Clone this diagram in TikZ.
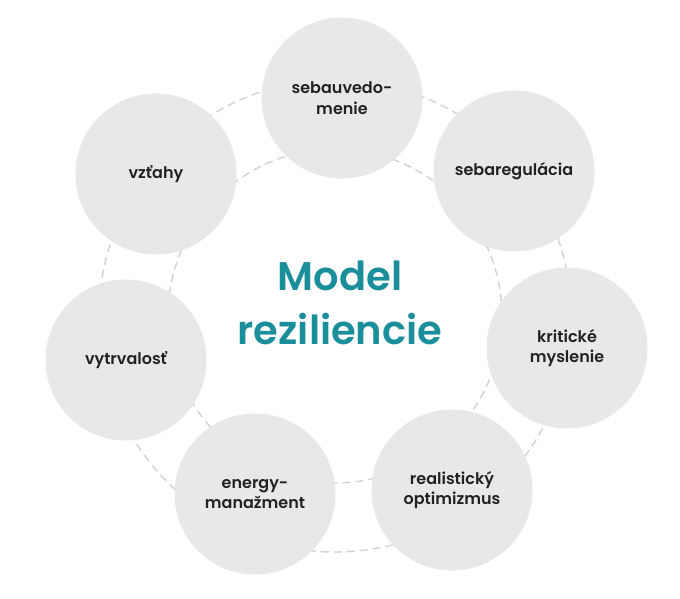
\documentclass[tikz,border=0pt]{standalone}
\usepackage{fontspec}
\setmainfont{Poppins}
\newfontfamily\lblfont{Poppins SemiBold}
\newfontfamily\ttlfont{Poppins SemiBold}
\definecolor{bubble}{HTML}{E8E8E8}
\definecolor{ringc}{HTML}{D2D2D2}
\definecolor{teal}{HTML}{1A8F9B}
\definecolor{ink}{HTML}{222222}
\begin{document}
\begin{tikzpicture}[x=1pt,y=-1pt,
  bubble/.style={circle,fill=bubble,minimum size=161pt,inner sep=0pt,align=center,
    font=\lblfont\fontsize{16}{20.5}\selectfont,text=ink},
  ring/.style={draw=ringc,line width=1.4pt,dash pattern=on 8pt off 5pt},
  title/.style={align=center,text=teal,font=\ttlfont\fontsize{40}{54}\selectfont}]
\useasboundingbox (0,0) rectangle (680,599);
\coordinate (hub) at (335,316);
\draw[ring] (hub) circle[radius=236];
\draw[ring] (hub) circle[radius=167];
\node[bubble] (a) at (342,98) {sebauvedo-\\menie};
\node[bubble] (b) at (514,171) {sebaregulácia};
\node[bubble] (c) at (567,348) {kritické\\myslenie};
\node[bubble] (d) at (452,490) {realistický\\optimizmus};
\node[bubble] (e) at (255,494) {energy-\\manažment};
\node[bubble] (f) at (126,360) {vytrvalosť};
\node[bubble] (g) at (156,174) {vzťahy};
\node[title] (t) at (340,303) {Model\\reziliencie};
\end{tikzpicture}
\end{document}
